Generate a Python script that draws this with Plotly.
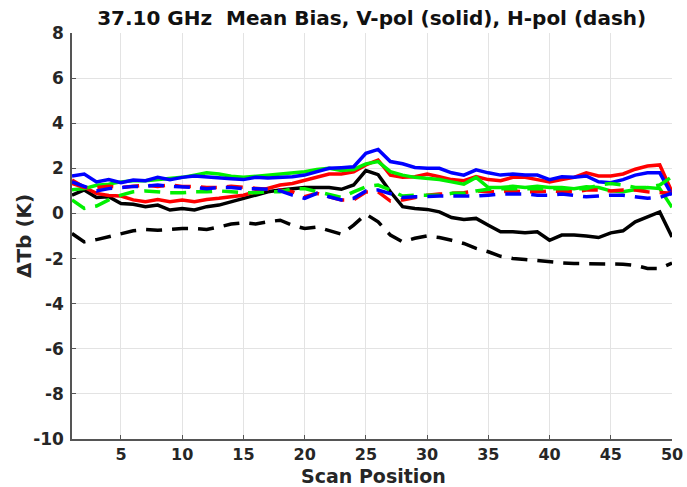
import plotly.graph_objects as go

scan = list(range(1, 51))

v_black = [0.81, 1.04, 0.71, 0.74, 0.44, 0.41, 0.30, 0.37, 0.15, 0.22, 0.15, 0.30, 0.37, 0.52, 0.67, 0.81, 0.96, 1.04, 1.10, 1.15,
           1.15, 1.15, 1.07, 1.26, 1.90, 1.72, 0.96, 0.30, 0.22, 0.18, 0.07, -0.18, -0.27, -0.22, -0.52, -0.81, -0.81, -0.86, -0.81, -1.19,
           -0.96, -0.96, -1.00, -1.07, -0.86, -0.77, -0.37, -0.15, 0.07, -1.04]
v_red = [1.48, 1.16, 0.89, 0.80, 0.77, 0.60, 0.52, 0.62, 0.52, 0.60, 0.52, 0.62, 0.67, 0.74, 0.81, 0.96, 1.10, 1.26, 1.33, 1.48,
         1.60, 1.75, 1.75, 1.85, 2.15, 2.37, 1.70, 1.60, 1.63, 1.75, 1.63, 1.50, 1.45, 1.63, 1.50, 1.45, 1.60, 1.60, 1.50, 1.40,
         1.50, 1.60, 1.80, 1.66, 1.66, 1.75, 1.96, 2.10, 2.15, 0.95]
v_green = [1.05, 1.10, 1.25, 1.30, 1.40, 1.45, 1.45, 1.50, 1.55, 1.60, 1.70, 1.80, 1.75, 1.65, 1.60, 1.65, 1.70, 1.75, 1.80, 1.85,
           1.95, 2.00, 1.90, 1.95, 2.20, 2.30, 1.85, 1.70, 1.60, 1.55, 1.50, 1.40, 1.30, 1.60, 1.15, 1.15, 1.20, 1.15, 1.20, 1.15,
           1.15, 1.10, 1.18, 1.15, 1.00, 0.96, 1.07, 1.15, 1.10, 0.27]
v_blue = [1.66, 1.75, 1.40, 1.50, 1.36, 1.48, 1.45, 1.60, 1.50, 1.60, 1.66, 1.63, 1.58, 1.54, 1.50, 1.60, 1.57, 1.60, 1.63, 1.70,
          1.85, 2.00, 2.03, 2.07, 2.67, 2.84, 2.30, 2.20, 2.04, 2.00, 2.00, 1.80, 1.70, 1.93, 1.80, 1.70, 1.75, 1.70, 1.70, 1.50,
          1.63, 1.60, 1.66, 1.40, 1.36, 1.50, 1.70, 1.80, 1.80, 0.81]

h_black = [-0.89, -1.26, -1.16, -1.04, -0.89, -0.77, -0.71, -0.74, -0.71, -0.67, -0.67, -0.71, -0.60, -0.47, -0.41, -0.47, -0.37, -0.30, -0.52, -0.67,
           -0.60, -0.74, -0.92, -0.52, -0.03, -0.37, -0.96, -1.26, -1.10, -1.00, -1.07, -1.19, -1.33, -1.55, -1.70, -1.90, -2.00, -2.04, -2.10, -2.15,
           -2.19, -2.22, -2.22, -2.25, -2.25, -2.25, -2.30, -2.44, -2.44, -2.20]
h_red = [1.33, 1.15, 1.15, 1.20, 1.15, 1.20, 1.26, 1.20, 1.26, 1.20, 1.20, 1.15, 1.15, 1.20, 1.15, 1.10, 1.07, 1.04, 0.96, 0.74,
         0.89, 0.74, 0.60, 0.60, 0.95, 0.96, 0.55, 0.60, 0.72, 0.81, 0.86, 0.89, 0.92, 1.00, 0.96, 0.96, 1.00, 0.96, 0.96, 1.00,
         0.96, 0.96, 1.04, 1.04, 1.00, 1.04, 1.04, 0.96, 0.92, 0.89]
h_green = [0.60, 0.22, 0.33, 0.60, 0.81, 0.96, 1.00, 0.96, 0.92, 0.92, 0.96, 0.96, 1.00, 0.96, 0.92, 0.92, 0.96, 0.96, 1.10, 1.10,
           0.96, 0.81, 0.71, 0.96, 1.18, 1.26, 1.04, 0.77, 0.81, 0.81, 0.81, 0.89, 0.89, 1.00, 1.07, 1.10, 1.10, 1.10, 1.10, 1.10,
           1.10, 1.07, 1.10, 1.26, 1.33, 1.26, 1.15, 1.15, 1.26, 1.63]
h_blue = [1.40, 1.20, 1.00, 1.10, 1.15, 1.20, 1.20, 1.26, 1.20, 1.18, 1.15, 1.10, 1.15, 1.15, 1.10, 1.10, 1.07, 1.00, 0.81, 0.67,
          0.89, 0.74, 0.60, 0.67, 1.00, 1.04, 0.89, 0.71, 0.74, 0.77, 0.77, 0.77, 0.77, 0.77, 0.81, 0.86, 0.86, 0.86, 0.81, 0.81,
          0.86, 0.81, 0.74, 0.77, 0.81, 0.81, 0.74, 0.67, 0.71, 0.90]

x_ticks = [5, 10, 15, 20, 25, 30, 35, 40, 45, 50]
y_ticks = [-10, -8, -6, -4, -2, 0, 2, 4, 6, 8]

fig = go.Figure()
series = [
    (v_black, "#000000", "solid"), (v_red, "#ff0000", "solid"), (v_green, "#00f000", "solid"), (v_blue, "#0000ff", "solid"),
    (h_black, "#000000", "16px,10px"), (h_red, "#ff0000", "16px,10px"), (h_green, "#00f000", "16px,10px"), (h_blue, "#0000ff", "16px,10px"),
]
for vals, col, dash in series:
    fig.add_trace(go.Scatter(x=scan, y=vals, mode="lines", line=dict(color=col, width=3.5, dash=dash), showlegend=False))

font_col = "#262626"
W, H = 687, 487
L, R, T, B = 72, 15, 33, 48
fig.update_layout(
    width=W, height=H,
    margin=dict(l=L, r=R, t=T, b=B, autoexpand=False),
    paper_bgcolor="white", plot_bgcolor="white",
    font=dict(family="DejaVu Sans", color=font_col),
    title=dict(text="<b>37.10 GHz  Mean Bias, V-pol (solid), H-pol (dash)</b>", x=0.541, xanchor="center",
               y=0.963, yanchor="middle", font=dict(size=20, color="#111111")),
)
fig.update_xaxes(range=[1, 50], tickvals=x_ticks, ticktext=[f"<b>{t}</b>" for t in x_ticks], automargin=False,
                 showgrid=True, gridcolor="#e3e3e3", gridwidth=1, zeroline=False,
                 showline=True, linecolor="#555555", linewidth=1.5, ticks="inside", ticklen=4, tickcolor="#555555",
                 tickfont=dict(size=16, color=font_col), ticklabelstandoff=0)
fig.update_yaxes(range=[-10, 8], tickvals=y_ticks, ticktext=[f"<b>{t}</b>" for t in y_ticks], automargin=False,
                 showgrid=True, gridcolor="#e3e3e3", gridwidth=1, zeroline=False,
                 showline=True, linecolor="#555555", linewidth=1.5, ticks="inside", ticklen=4, tickcolor="#555555",
                 tickfont=dict(size=17, color=font_col), ticklabelstandoff=3)

fig.add_annotation(text="<b>Scan Position</b>", xref="paper", yref="paper",
                   x=(373 - L) / (W - L - R), y=-(476 - (H - B)) / (H - T - B),
                   xanchor="center", yanchor="middle", showarrow=False, font=dict(size=19, color=font_col))
fig.add_annotation(text="<b>ΔTb (K)</b>", xref="paper", yref="paper", textangle=-90,
                   x=-(L - 24) / (W - L - R), y=((H - B) - 236) / (H - T - B),
                   xanchor="center", yanchor="middle", showarrow=False, font=dict(size=20, color=font_col))

fig.write_html("out.html")
